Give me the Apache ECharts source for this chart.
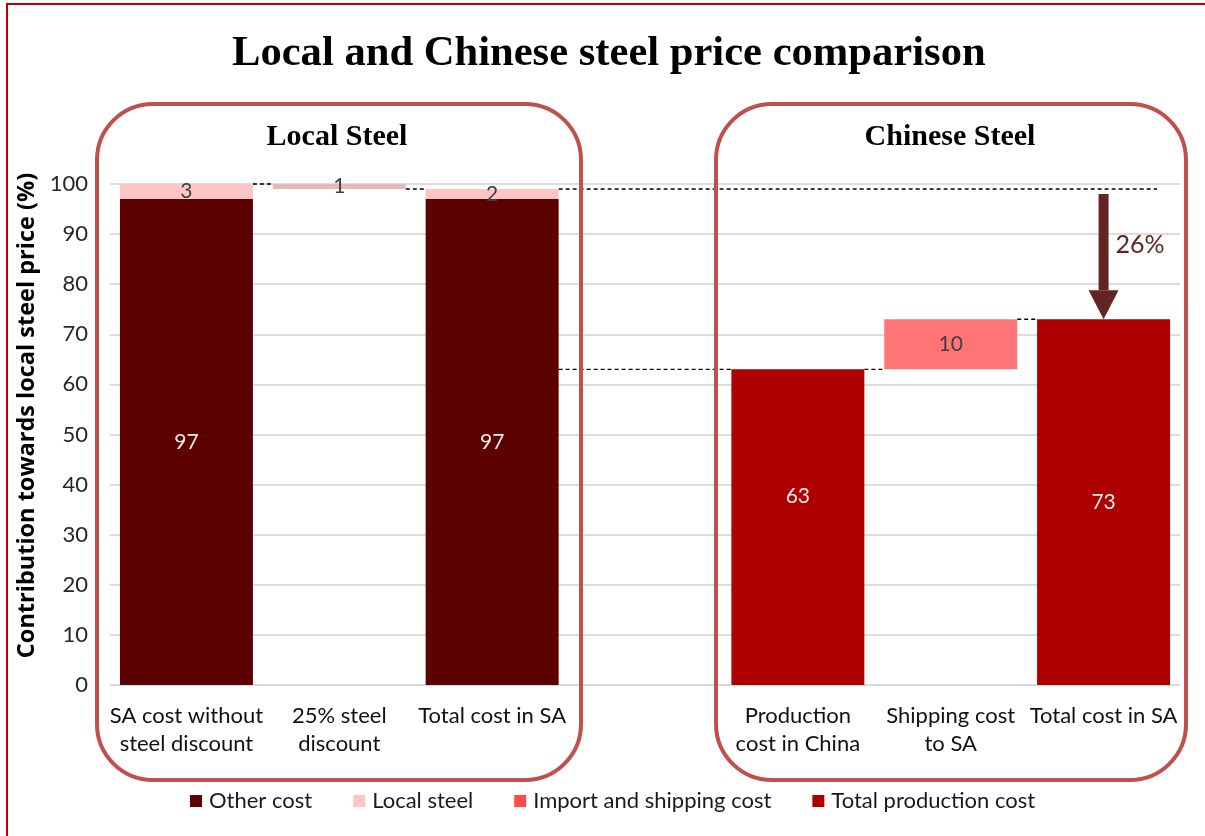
<!DOCTYPE html>
<html>
<head>
<meta charset="utf-8">
<script src="https://cdn.jsdelivr.net/npm/echarts@6/dist/echarts.min.js"></script>
<style>
  html, body { margin: 0; padding: 0; background: #fff; }
  #chart { width: 1205px; height: 836px; }
</style>
</head>
<body>
<div id="chart"></div>
<script>
// Waterfall comparison of local vs. imported Chinese steel (share of local price, %)
const categories = [
  'SA cost without\nsteel discount',
  '25% steel\ndiscount',
  'Total cost in SA',
  '',
  'Production\ncost in China',
  'Shipping cost\nto SA',
  'Total cost in SA'
];
const baseOffset      = [0, 99, 0, 0, 0, 63, 0];
const otherCost       = [97, 0, 97, 0, 0, 0, 0];
const localSteel      = [3, 1, 2, 0, 0, 0, 0];
const importShipping  = [0, 0, 0, 0, 0, 10, 0];
const totalProduction = [0, 0, 0, 0, 63, 0, 73];
const yTicks = [0, 10, 20, 30, 40, 50, 60, 70, 80, 90, 100];

// Arrow showing the drop from the local total to the Chinese total
const arrowCategory = 6;
const arrowFrom = 98;
const arrowTo = 73;
const arrowLabel = '26%';

// Dashed connectors: [fromCategory, fromEdge, toCategory, toEdge, level]
// edge: -1 left bar edge, +1 right bar edge, other values = fraction of band from centre
const connectors = [
  [0, 1, 1, -1, 100],
  [1, 1, 2, -1, 99],
  [2, 1, 6, 0.35, 99],
  [2, 1, 4, -1, 63],
  [4, 1, 5, -1, 63],
  [5, 1, 6, -1, 73]
];

const GAP = 0.13;
const HALF = (1 - GAP) / 2;
const FONT = 'Lato, "Noto Sans", sans-serif';

const chart = echarts.init(document.getElementById('chart'));

function nz(arr, styler) {
  return arr.map((v, i) => {
    if (!v) return '-';
    const item = { value: v };
    if (styler) Object.assign(item, styler(i) || {});
    return item;
  });
}

function inLabel(color) {
  return {
    show: true, position: 'inside', color: color,
    fontFamily: FONT, fontSize: 21,
    formatter: p => (p.value ? p.value : '')
  };
}

const option = {
  animation: false,
  backgroundColor: '#fff',
  title: {
    text: 'Local and Chinese steel price comparison',
    left: 227, top: 27,
    textStyle: { fontFamily: '"Liberation Serif", "Times New Roman", serif', fontWeight: 'bold', fontSize: 42.6, color: '#000' }
  },
  grid: { left: 110, right: 25, top: 184, bottom: 151 },
  legend: {
    bottom: 19, left: 185,
    itemWidth: 12, itemHeight: 12, itemGap: 41,
    icon: 'rect',
    textStyle: { fontFamily: FONT, fontSize: 22, color: '#1a1a1a', padding: [0, 0, 0, 2] },
    data: ['Other cost', 'Local steel', 'Import and shipping cost', 'Total production cost']
  },
  xAxis: {
    type: 'category', data: categories,
    axisLine: { show: true, lineStyle: { color: '#d9d9d9' } },
    axisTick: { show: false },
    axisLabel: { interval: 0, margin: 17, lineHeight: 28, fontFamily: FONT, fontSize: 22, color: '#111' }
  },
  yAxis: {
    type: 'value', min: 0, max: 100, interval: 10,
    name: 'Contribution towards local steel price (%)',
    nameLocation: 'middle', nameGap: 66, nameRotate: 90,
    nameTextStyle: { fontFamily: '"Open Sans", Lato, sans-serif', fontWeight: 'bold', fontSize: 23.5, color: '#000', padding: [0, 0, 0, 38] },
    axisLine: { show: false }, axisTick: { show: false },
    axisLabel: { margin: 22, fontFamily: FONT, fontSize: 22, color: '#262626',
      formatter: v => (yTicks.indexOf(v) >= 0 ? String(v) : '') },
    splitLine: { lineStyle: { color: '#dcdcdc', width: 2 } }
  },
  series: [
    {
      name: 'base', type: 'bar', stack: 'w', barCategoryGap: GAP * 100 + '%',
      itemStyle: { color: 'transparent' }, silent: true,
      data: baseOffset.map(v => v || '-')
    },
    {
      name: 'Other cost', type: 'bar', stack: 'w',
      itemStyle: { color: '#5C0000' },
      label: inLabel('#ECECEC'),
      data: nz(otherCost)
    },
    {
      name: 'Local steel', type: 'bar', stack: 'w',
      itemStyle: { color: '#FFC4C4' },
      label: inLabel('#404040'),
      data: nz(localSteel, i => (baseOffset[i] ? { itemStyle: { color: '#E6B8B7' } } : null))
    },
    {
      name: 'Import and shipping cost', type: 'bar', stack: 'w',
      itemStyle: { color: '#FF4B4B' },
      label: inLabel('#404040'),
      data: nz(importShipping, () => ({ itemStyle: { color: '#FF7575' } }))
    },
    {
      name: 'Total production cost', type: 'bar', stack: 'w',
      itemStyle: { color: '#AF0000' },
      label: inLabel('#ECECEC'),
      data: nz(totalProduction, i => (i === 4 ? { label: { offset: [0, -31] } } : null))
    },
    {
      name: 'connectors', type: 'custom', silent: true, z: 1,
      encode: { x: 0, y: 4 },
      data: connectors,
      renderItem: function (params, api) {
        const band = api.size([1, 0])[0];
        const edge = e => (e === 1 ? HALF : e === -1 ? -HALF : e);
        const a = api.coord([api.value(0), api.value(4)]);
        const b = api.coord([api.value(2), api.value(4)]);
        return {
          type: 'line',
          shape: { x1: a[0] + edge(api.value(1)) * band, y1: a[1], x2: b[0] + edge(api.value(3)) * band, y2: b[1] },
          style: { stroke: '#000', lineWidth: 1.3, lineDash: [4, 3] }
        };
      }
    },
    {
      name: 'arrow', type: 'custom', silent: true, z: 5,
      encode: { x: 0, y: 1 },
      data: [[arrowCategory, arrowFrom, arrowTo]],
      renderItem: function (params, api) {
        const top = api.coord([api.value(0), api.value(1)]);
        const tip = api.coord([api.value(0), api.value(2)]);
        const headH = 29, headW = 30, shaftW = 10;
        const cx = top[0];
        return {
          type: 'group',
          children: [
            { type: 'rect', shape: { x: cx - shaftW / 2, y: top[1], width: shaftW, height: tip[1] - headH - top[1] }, style: { fill: '#632523' } },
            { type: 'polygon', shape: { points: [[cx - headW / 2, tip[1] - headH], [cx + headW / 2, tip[1] - headH], [cx, tip[1]]] }, style: { fill: '#632523' } },
            { type: 'text', x: cx + 12, y: api.coord([0, (api.value(1) + api.value(2)) / 2 + 2.4])[1],
              style: { text: arrowLabel, fill: '#632523', font: '25px ' + FONT, textAlign: 'left', textVerticalAlign: 'middle' } }
          ]
        };
      }
    }
  ],
  graphic: [
    // page frame
    { type: 'line', shape: { x1: 6, y1: 4, x2: 1205, y2: 4 }, style: { stroke: '#C00000', lineWidth: 2 } },
    { type: 'line', shape: { x1: 7, y1: 4, x2: 7, y2: 836 }, style: { stroke: '#C00000', lineWidth: 2 } },
    // group frames
    { type: 'rect', shape: { x: 97, y: 104, width: 484, height: 676, r: 56 }, style: { fill: 'none', stroke: '#C0504D', lineWidth: 4 }, z: 10 },
    { type: 'rect', shape: { x: 716, y: 104, width: 470, height: 676, r: 56 }, style: { fill: 'none', stroke: '#C0504D', lineWidth: 4 }, z: 10 },
    { type: 'text', x: 337, y: 137, style: { text: 'Local Steel', font: 'bold 30px "Liberation Serif", serif', fill: '#000', textAlign: 'center', textVerticalAlign: 'middle' } },
    { type: 'text', x: 950, y: 137, style: { text: 'Chinese Steel', font: 'bold 30px "Liberation Serif", serif', fill: '#000', textAlign: 'center', textVerticalAlign: 'middle' } }
  ]
};

chart.setOption(option);
</script>
</body>
</html>
